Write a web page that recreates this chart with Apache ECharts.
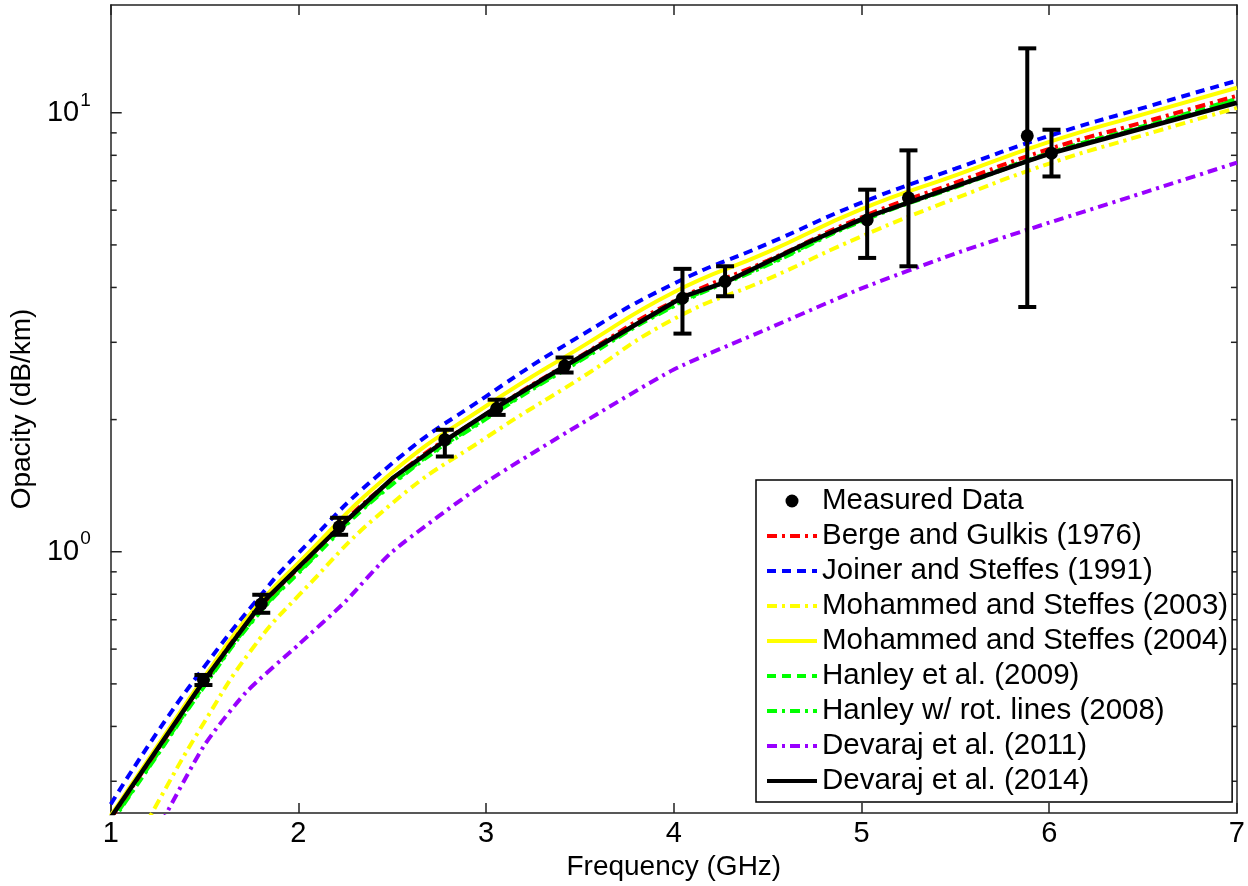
<!DOCTYPE html>
<html>
<head>
<meta charset="utf-8">
<script src="https://cdn.jsdelivr.net/npm/echarts@6/dist/echarts.min.js"></script>
<style>
html,body{margin:0;padding:0;background:#fff;}
#chart{width:1248px;height:886px;}
</style>
</head>
<body>
<div id="chart"></div>
<script>
// ---------------- data ----------------
const FONT = "'Liberation Sans', Arial, sans-serif";

const seriesNames = [
  'Measured Data',
  'Berge and Gulkis (1976)',
  'Joiner and Steffes (1991)',
  'Mohammed and Steffes (2003)',
  'Mohammed and Steffes (2004)',
  'Hanley et al. (2009)',
  'Hanley w/ rot. lines (2008)',
  'Devaraj et al. (2011)',
  'Devaraj et al. (2014)'
];

// measured data (GHz, dB/km) with error bar limits
const measFreq = [1.494, 1.802, 2.217, 2.78, 3.056, 3.418, 4.046, 4.273, 5.03, 5.25, 5.883, 6.012];
const measVal  = [0.511, 0.760, 1.140, 1.80, 2.12, 2.65, 3.78, 4.13, 5.70, 6.40, 8.86, 8.09];
const measLow  = [0.497, 0.726, 1.093, 1.648, 2.05, 2.56, 3.14, 3.82, 4.67, 4.47, 3.61, 7.16];
const measHigh = [0.524, 0.798, 1.195, 1.896, 2.22, 2.77, 4.41, 4.47, 6.68, 8.21, 14.02, 9.15];

// model curves
const freqGrid = [1.0, 1.25, 1.5, 1.75, 2.0, 2.5, 3.0, 3.5, 4.0, 4.5, 5.0, 5.5, 6.0, 6.5, 7.0];
const berge1976     = [0.2467, 0.354, 0.508, 0.708, 0.918, 1.464, 2.06, 2.787, 3.72, 4.606, 5.78, 6.93, 8.27, 9.51, 10.93];
const joiner1991    = [0.266, 0.389, 0.548, 0.750, 0.993, 1.59, 2.26, 3.10, 4.08, 5.03, 6.24, 7.46, 8.86, 10.26, 11.83];
const mohammed2003  = [0.17, 0.268, 0.41, 0.598, 0.794, 1.29, 1.82, 2.48, 3.39, 4.18, 5.23, 6.38, 7.66, 8.89, 10.26];
const mohammed2004  = [0.2506, 0.3617, 0.519, 0.727, 0.943, 1.517, 2.148, 2.914, 3.90, 4.816, 6.03, 7.20, 8.58, 9.92, 11.40];
const hanley2009    = [0.2416, 0.3468, 0.4978, 0.6936, 0.899, 1.432, 2.017, 2.737, 3.642, 4.522, 5.69, 6.80, 8.10, 9.32, 10.76];
const hanley2008    = [0.2403, 0.345, 0.4952, 0.690, 0.894, 1.424, 2.007, 2.722, 3.623, 4.499, 5.66, 6.765, 8.06, 9.27, 10.71];

const freqDevaraj2011 = [1.0, 1.25, 1.5, 1.72, 2.0, 2.25, 2.5, 3.0, 3.5, 4.0, 4.5, 5.0, 5.5, 6.0, 6.5, 7.0];
const devaraj2011     = [0.14, 0.232, 0.363, 0.478, 0.614, 0.77, 1.0, 1.44, 1.95, 2.60, 3.22, 3.98, 4.78, 5.62, 6.57, 7.7];

const freqDevaraj2014 = [1.0, 1.5, 1.8, 2.22, 2.5, 2.78, 3.06, 3.42, 4.05, 4.28, 4.7, 5.02, 5.25, 5.88, 6.02, 7.0];
const devaraj2014     = [0.248, 0.511, 0.76, 1.14, 1.47, 1.79, 2.14, 2.65, 3.81, 4.12, 5.03, 5.77, 6.24, 7.75, 8.11, 10.54];

// axes
const xMin = 1, xMax = 7, xStep = 1;
const yMin = 0.254, yMax = 17.6;
const yMajorTicks = [1, 10];
const yMinorTicks = [0.3, 0.4, 0.5, 0.6, 0.7, 0.8, 0.9, 2, 3, 4, 5, 6, 7, 8, 9];

// ---------------- helpers ----------------
const zip = (xs, ys) => xs.map((x, i) => [x, ys[i]]);

function lineSeries(name, xs, ys, color, type, width, smooth, z) {
  return {
    name: name, type: 'line', data: zip(xs, ys), symbol: 'none', smooth: smooth,
    lineStyle: { color: color, type: type, width: width }, itemStyle: { color: color },
    z: z, animation: false, silent: true
  };
}

const dashDot = [10, 5, 3, 5];
const dashed = [9, 6];

const chart = echarts.init(document.getElementById('chart'), null, { renderer: 'canvas' });

const tickData = yMajorTicks.map(v => [1, v, 1]).concat(yMinorTicks.map(v => [1, v, 0]));

const legendData = seriesNames.map((n, i) => i === 0
  ? { name: n, itemStyle: { opacity: 1 } }
  : { name: n, itemStyle: { opacity: 0 } });

const option = {
  backgroundColor: '#fff',
  animation: false,
  grid: { left: 110, right: 9, top: 5, bottom: 73, containLabel: false },
  legend: {
    data: legendData,
    orient: 'vertical',
    left: 756, top: 480,
    backgroundColor: '#fff',
    borderColor: '#000', borderWidth: 1.5, borderRadius: 0,
    padding: [6, 4, 6, 9],
    itemGap: 5, itemWidth: 50, itemHeight: 13,
    selectedMode: false,
    textStyle: { fontFamily: FONT, fontSize: 29.5, lineHeight: 30, color: '#000' },
    lineStyle: { width: 4 }
  },
  xAxis: [{
    type: 'value', min: xMin, max: xMax, interval: xStep, position: 'bottom',
    name: 'Frequency (GHz)', nameLocation: 'middle', nameGap: 34,
    nameTextStyle: { fontFamily: FONT, fontSize: 28, color: '#000' },
    axisLine: { lineStyle: { color: '#222', width: 1.5 } },
    axisTick: { inside: true, length: 10, lineStyle: { color: '#222', width: 1.5 } },
    axisLabel: { fontFamily: FONT, fontSize: 29, color: '#000', margin: 6 },
    splitLine: { show: false }
  }, {
    type: 'value', min: xMin, max: xMax, interval: xStep, position: 'top',
    axisLine: { lineStyle: { color: '#222', width: 1.5 } },
    axisTick: { inside: true, length: 10, lineStyle: { color: '#222', width: 1.5 } },
    axisLabel: { show: false }, splitLine: { show: false }
  }],
  yAxis: [{
    type: 'log', logBase: 10, min: yMin, max: yMax, position: 'left',
    name: 'Opacity (dB/km)', nameLocation: 'middle', nameGap: 64, nameRotate: 90,
    nameTextStyle: { fontFamily: FONT, fontSize: 28, color: '#000' },
    axisLine: { show: true, lineStyle: { color: '#222', width: 1.5 } },
    axisTick: { show: false },
    axisLabel: {
      margin: 20,
      formatter: function (v) {
        const l = Math.log10(v), e = Math.round(l);
        if (Math.abs(l - e) > 1e-6) return '';
        return '{b|10}{s|' + e + '}';
      },
      rich: {
        b: { fontFamily: FONT, fontSize: 29, color: '#000', lineHeight: 44 },
        s: { fontFamily: FONT, fontSize: 19, color: '#000', verticalAlign: 'top', lineHeight: 20, padding: [0, 0, 0, 1] }
      }
    },
    splitLine: { show: false }
  }, {
    type: 'log', logBase: 10, min: yMin, max: yMax, position: 'right',
    axisLine: { show: true, lineStyle: { color: '#222', width: 1.5 } },
    axisTick: { show: false }, axisLabel: { show: false }, splitLine: { show: false }
  }],
  series: [
    {
      name: 'Measured Data', type: 'scatter', data: zip(measFreq, measVal),
      symbol: 'circle', symbolSize: 13, itemStyle: { color: '#000', opacity: 1 }, z: 20, silent: true
    },
    lineSeries('Berge and Gulkis (1976)', freqGrid, berge1976, '#ff0000', dashDot, 4, true, 4),
    lineSeries('Joiner and Steffes (1991)', freqGrid, joiner1991, '#0000ff', dashed, 4, true, 2),
    lineSeries('Mohammed and Steffes (2003)', freqGrid, mohammed2003, '#ffff00', dashDot, 4, true, 2),
    lineSeries('Mohammed and Steffes (2004)', freqGrid, mohammed2004, '#ffff00', 'solid', 4, true, 3),
    lineSeries('Hanley et al. (2009)', freqGrid, hanley2009, '#00ff00', dashed, 4, true, 3),
    lineSeries('Hanley w/ rot. lines (2008)', freqGrid, hanley2008, '#00ff00', dashDot, 4, true, 3),
    lineSeries('Devaraj et al. (2011)', freqDevaraj2011, devaraj2011, '#9900ff', dashDot, 4, 0.2, 2),
    lineSeries('Devaraj et al. (2014)', freqDevaraj2014, devaraj2014, '#000000', 'solid', 4.5, false, 6),
    {
      name: 'errorbars', type: 'custom', silent: true, z: 19,
      data: measFreq.map((f, i) => [f, measLow[i], measHigh[i]]),
      encode: { x: 0, y: [1, 2] },
      renderItem: function (params, api) {
        const f = api.value(0);
        const pLo = api.coord([f, api.value(1)]);
        const pHi = api.coord([f, api.value(2)]);
        const hw = 9;
        const st = { stroke: '#000', lineWidth: 4 };
        return {
          type: 'group', children: [
            { type: 'line', shape: { x1: pLo[0], y1: pLo[1], x2: pHi[0], y2: pHi[1] }, style: st },
            { type: 'line', shape: { x1: pLo[0] - hw, y1: pLo[1], x2: pLo[0] + hw, y2: pLo[1] }, style: st },
            { type: 'line', shape: { x1: pHi[0] - hw, y1: pHi[1], x2: pHi[0] + hw, y2: pHi[1] }, style: st }
          ]
        };
      }
    },
    {
      name: 'yticks', type: 'custom', silent: true, z: 1,
      data: tickData,
      encode: { x: 0, y: 1 },
      renderItem: function (params, api) {
        const v = api.value(1);
        const len = api.value(2) ? 11 : 6;
        const pl = api.coord([xMin, v]);
        const pr = api.coord([xMax, v]);
        const st = { stroke: '#222', lineWidth: 1.5 };
        return {
          type: 'group', children: [
            { type: 'line', shape: { x1: pl[0], y1: pl[1], x2: pl[0] + len, y2: pl[1] }, style: st },
            { type: 'line', shape: { x1: pr[0], y1: pr[1], x2: pr[0] - len, y2: pr[1] }, style: st }
          ]
        };
      }
    }
  ]
};
chart.setOption(option);
</script>
</body>
</html>
